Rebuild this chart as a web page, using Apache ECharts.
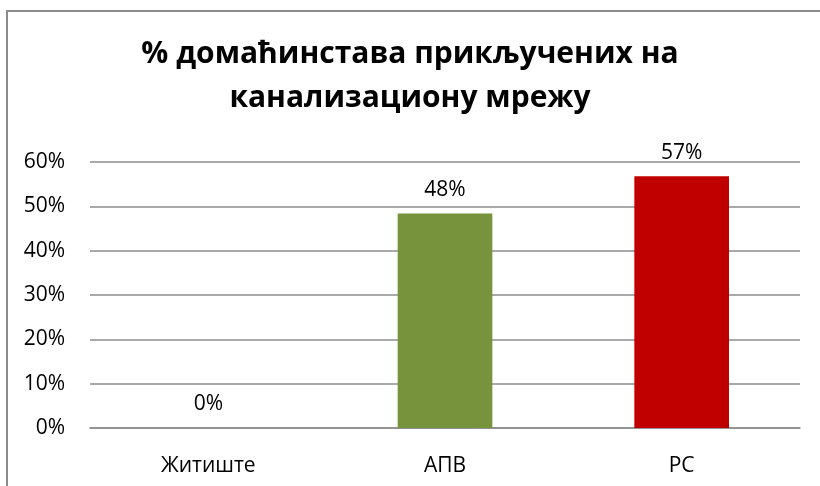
<!DOCTYPE html>
<html>
<head>
<meta charset="utf-8">
<script src="https://cdn.jsdelivr.net/npm/echarts@6/dist/echarts.min.js"></script>
<style>
  html, body { margin: 0; padding: 0; background: #fff; }
  #chart { width: 820px; height: 486px; }
</style>
</head>
<body>
<div id="chart"></div>
<script>
var categories = ['Житиште', 'АПВ', 'РС'];
var values = [0, 48.4, 56.8];
var barColors = ['#4f81bd', '#77933c', '#c00000'];
var yTicks = [0, 10, 20, 30, 40, 50, 60];

var chart = echarts.init(document.getElementById('chart'), null, { renderer: 'canvas' });
var font = '"Open Sans", "Noto Sans", sans-serif';

var option = {
  backgroundColor: '#ffffff',
  animation: false,
  title: {
    text: '% домаћинстава прикључених на\nканализациону мрежу',
    left: 'center',
    top: 27,
    textStyle: {
      fontFamily: font,
      fontSize: 30,
      fontWeight: 'bold',
      color: '#000',
      lineHeight: 44
    }
  },
  graphic: [{
    type: 'rect',
    shape: { x: 7, y: 11, width: 900, height: 600 },
    style: { fill: 'none', stroke: '#8c8c8c', lineWidth: 2 },
    silent: true
  }],
  grid: { left: 90, right: 20, top: 162, bottom: 58 },
  xAxis: {
    type: 'category',
    data: categories,
    axisTick: { show: false },
    axisLine: { lineStyle: { color: '#8c8c8c', width: 1.5 } },
    axisLabel: { color: '#000', fontFamily: font, fontSize: 21, margin: 28 }
  },
  yAxis: {
    type: 'value',
    min: yTicks[0],
    max: yTicks[yTicks.length - 1],
    interval: 10,
    axisLine: { show: false },
    axisTick: { show: false },
    splitLine: { lineStyle: { color: '#8c8c8c', width: 1.5 } },
    axisLabel: {
      color: '#000', fontFamily: font, fontSize: 21, margin: 25,
      formatter: function (v) { return v + '%'; }
    }
  },
  series: [{
    type: 'bar',
    barWidth: '40%',
    data: values.map(function (v, i) {
      return { value: v, itemStyle: { color: barColors[i] } };
    }),
    label: {
      show: true,
      position: 'top',
      distance: 13,
      color: '#000',
      fontFamily: font,
      fontSize: 21,
      formatter: function (p) { return Math.round(p.value) + '%'; }
    }
  }]
};
chart.setOption(option);
</script>
</body>
</html>
